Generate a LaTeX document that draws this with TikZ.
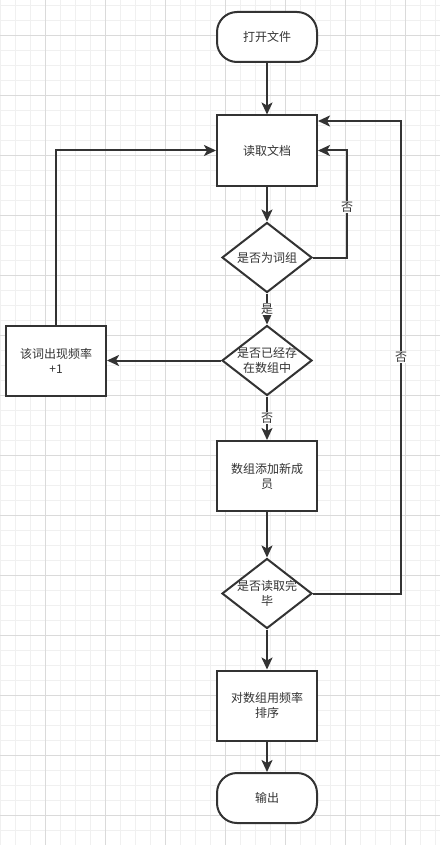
\documentclass[tikz,border=0pt]{standalone}
\usepackage{fontspec}
\newfontfamily\cjk{Noto Sans CJK SC}
\usetikzlibrary{arrows.meta,shapes.geometric}
\definecolor{ink}{HTML}{333333}
\definecolor{gmajor}{HTML}{DADADA}
\definecolor{gminor}{HTML}{F0F0F0}
\tikzset{
  txt/.style={font=\cjk\fontsize{12}{15}\selectfont, text=ink, align=center},
  proc/.style={draw=ink, line width=2pt, fill=white, minimum width=100pt, minimum height=70pt, inner sep=0pt, txt},
  term/.style={draw=ink, line width=2pt, fill=white, rounded corners=20pt, minimum width=100pt, minimum height=50pt, inner sep=0pt, txt},
  dec/.style={diamond, draw=ink, line width=2pt, fill=white, minimum width=90pt, minimum height=70pt, inner sep=0pt},
  conn/.style={draw=ink, line width=2pt, -{Stealth[length=12pt,width=11pt,inset=3pt]}},
  lbl/.style={fill=white, inner sep=1pt, txt}
}
\begin{document}
\begin{tikzpicture}[x=1pt,y=-1pt]
\useasboundingbox (0,0) rectangle (440,845);
\fill[white] (0,0) rectangle (440,845);
% grid
\foreach \x in {0,15,...,435} \draw[gminor, line width=0.8pt] (\x,0) -- (\x,845);
\foreach \y in {5,20,...,845} \draw[gminor, line width=0.8pt] (0,\y) -- (440,\y);
\foreach \x in {45,105,...,405} \draw[gmajor, line width=0.8pt] (\x,0) -- (\x,845);
\foreach \y in {35,95,...,815} \draw[gmajor, line width=0.8pt] (0,\y) -- (440,\y);
% nodes
\node[term] (start) at (267,37) {打开文件};
\node[proc] (read) at (267,150.5) {读取文档};
\node[dec, label={[txt]center:{是否为词组}}] (d1) at (267,257.5) {};
\node[dec, label={[txt]center:{是否已经存\\在数组中}}] (d2) at (267,360.5) {};
\node[proc] (plus) at (56,360.5) {该词出现频率\\+1};
\node[proc] (add) at (267,476) {数组添加新成\\员};
\node[dec, label={[txt]center:{是否读取完\\毕}}] (d3) at (267,593.5) {};
\node[proc] (sort) at (267,705.5) {对数组用频率\\排序};
\node[term] (end) at (267,798) {输出};
\coordinate (l1a) at (347,257.5);
\coordinate (l1b) at (347,150.5);
\coordinate (l3a) at (401,593.5);
\coordinate (l3b) at (401,121);
% connectors
\draw[conn] (start) -- (read);
\draw[conn] (read) -- (d1);
\draw[conn] (d1.east) -- (l1a) -- node[lbl, pos=0.47] (n1) {否} (l1b) -- (read.east);
\draw[conn] (d1.south) -- node[lbl] (y1) {是} (d2.north);
\draw[conn] (d2.west) -- (plus.east);
\draw[conn] (plus.north) |- (read.west);
\draw[conn] (d2.south) -- node[lbl] (n2) {否} (add.north);
\draw[conn] (add) -- (d3);
\draw[conn] (d3.east) -- (l3a) -- node[lbl, pos=0.5] (n3) {否} (l3b) -- (read.east |- l3b);
\draw[conn] (d3) -- (sort);
\draw[conn] (sort) -- (end);
\end{tikzpicture}
\end{document}
